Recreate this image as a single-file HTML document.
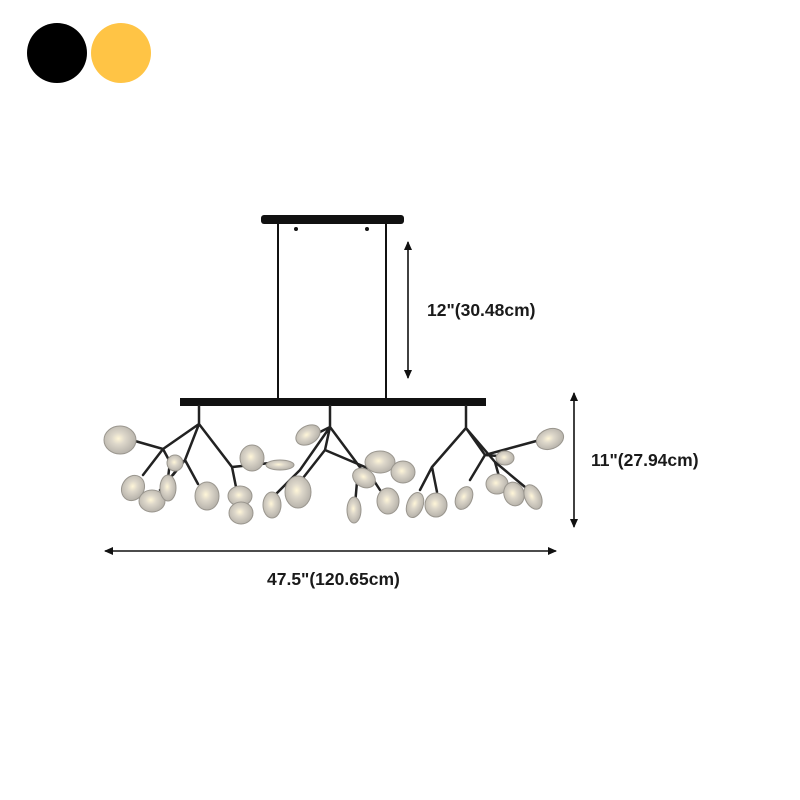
<!DOCTYPE html>
<html><head><meta charset="utf-8"><style>
html,body{margin:0;padding:0;background:#fff;}
svg{display:block}
text{font-family:"Liberation Sans",sans-serif;font-weight:bold;font-size:17.5px;fill:#1a1a1a}
</style></head><body>
<svg width="800" height="800" viewBox="0 0 800 800" xmlns="http://www.w3.org/2000/svg">
<defs>
<radialGradient id="g" cx="0.45" cy="0.45" r="0.6">
<stop offset="0" stop-color="#fff6d8"/><stop offset="0.35" stop-color="#ddd7ca"/><stop offset="1" stop-color="#b2aea7"/>
</radialGradient>
<marker id="ah" markerWidth="10" markerHeight="10" refX="8" refY="5" orient="auto-start-reverse" markerUnits="userSpaceOnUse">
<path d="M0,1 L9,5 L0,9 z" fill="#111"/></marker>
</defs>
<circle cx="57" cy="53" r="30" fill="#000"/>
<circle cx="121" cy="53" r="30" fill="#ffc445"/>

<rect x="261" y="215" width="143" height="9" rx="3" fill="#111"/>
<circle cx="296" cy="229" r="2" fill="#111"/><circle cx="367" cy="229" r="2" fill="#111"/>
<line x1="278" y1="224" x2="278" y2="398" stroke="#111" stroke-width="2"/>
<line x1="386" y1="224" x2="386" y2="398" stroke="#111" stroke-width="2"/>
<rect x="180" y="398" width="306" height="8" fill="#111"/>

<g stroke="#222" stroke-width="2.5" fill="none" stroke-linecap="round">
<path d="M199 406 V424 L163 449 L135 441 M163 449 L143 475 M163 449 L170 462 L168 478 M199 424 L185 460 L198 484 M185 460 L173 475 M185 460 L160 490 M199 424 L232 467 L270 463 M232 467 L236 487"/>
<path d="M330 406 V427 L310 437 M330 427 L325 450 L303 478 M330 427 L300 470 L275 495 M325 450 L365 467 L395 465 M365 467 L380 490 M358 470 L355 505 M330 427 L362 470"/>
<path d="M466 406 V428 L432 467 L420 490 M432 467 L437 492 M466 428 L485 455 L540 440 M485 455 L470 480 M466 428 L495 462 L525 487 M495 462 L500 480 M485 455 L498 456"/>
</g>

<g fill="url(#g)" stroke="#9a968e" stroke-width="1">
<ellipse cx="120" cy="440" rx="16" ry="14"/>
<ellipse cx="133" cy="488" rx="11" ry="13" transform="rotate(30 133 488)"/>
<ellipse cx="152" cy="501" rx="13" ry="11"/>
<ellipse cx="168" cy="488" rx="8" ry="13"/>
<ellipse cx="175" cy="463" rx="8" ry="8"/>
<ellipse cx="207" cy="496" rx="12" ry="14"/>
<ellipse cx="252" cy="458" rx="12" ry="13"/>
<ellipse cx="280" cy="465" rx="14" ry="5"/>
<ellipse cx="240" cy="496" rx="12" ry="10"/>
<ellipse cx="241" cy="513" rx="12" ry="11"/>
<ellipse cx="272" cy="505" rx="9" ry="13"/>
<ellipse cx="308" cy="435" rx="13" ry="9" transform="rotate(-30 308 435)"/>
<ellipse cx="298" cy="492" rx="13" ry="16"/>
<ellipse cx="354" cy="510" rx="7" ry="13"/>
<ellipse cx="364" cy="478" rx="12" ry="9" transform="rotate(30 364 478)"/>
<ellipse cx="380" cy="462" rx="15" ry="11"/>
<ellipse cx="403" cy="472" rx="12" ry="11"/>
<ellipse cx="388" cy="501" rx="11" ry="13"/>
<ellipse cx="415" cy="505" rx="8" ry="13" transform="rotate(20 415 505)"/>
<ellipse cx="436" cy="505" rx="11" ry="12"/>
<ellipse cx="464" cy="498" rx="8" ry="12" transform="rotate(25 464 498)"/>
<ellipse cx="497" cy="484" rx="11" ry="10"/>
<ellipse cx="505" cy="458" rx="9" ry="7"/>
<ellipse cx="514" cy="494" rx="10" ry="12" transform="rotate(-20 514 494)"/>
<ellipse cx="533" cy="497" rx="8" ry="13" transform="rotate(-25 533 497)"/>
<ellipse cx="550" cy="439" rx="14" ry="10" transform="rotate(-20 550 439)"/>
</g>

<g stroke="#111" stroke-width="1.6">
<line x1="408" y1="242" x2="408" y2="378" marker-start="url(#ah)" marker-end="url(#ah)"/>
<line x1="574" y1="393" x2="574" y2="527" marker-start="url(#ah)" marker-end="url(#ah)"/>
<line x1="105" y1="551" x2="556" y2="551" marker-start="url(#ah)" marker-end="url(#ah)"/>
</g>
<text x="427" y="316">12"(30.48cm)</text>
<text x="591" y="466">11"(27.94cm)</text>
<text x="267" y="585">47.5"(120.65cm)</text>
</svg>
</body></html>
